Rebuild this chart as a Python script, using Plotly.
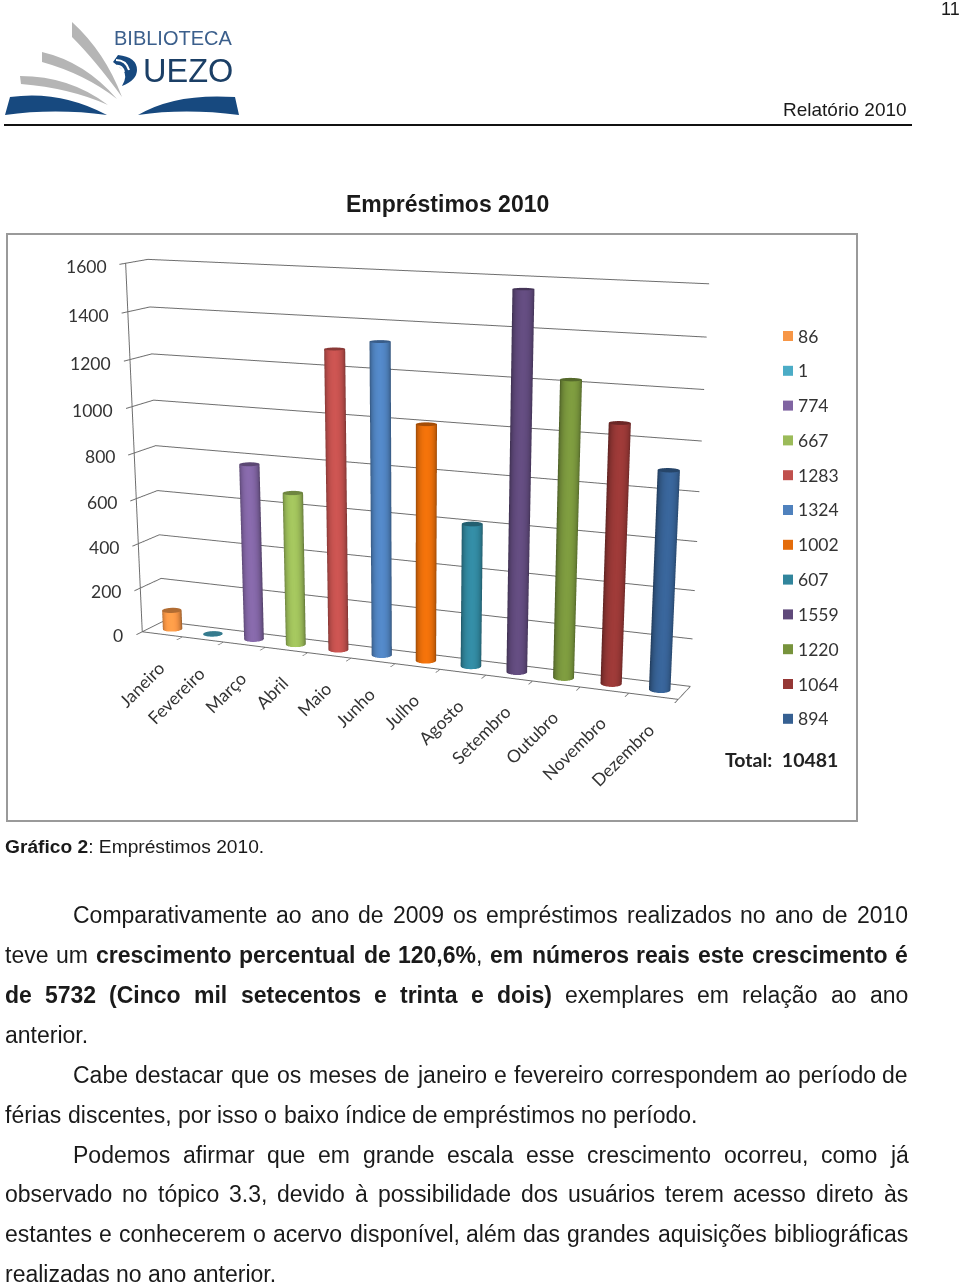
import math, re, unicodedata
import plotly.graph_objects as go

months = ["Janeiro","Fevereiro","Março","Abril","Maio","Junho","Julho","Agosto","Setembro","Outubro","Novembro","Dezembro"]
values = [86,1,774,667,1283,1324,1002,607,1559,1220,1064,894]
colors = ["#f79646","#4bacc6","#8064a2","#9bbb59","#c0504d","#4f81bd","#e46c0a","#31859c","#5f497a","#77933c","#953735","#366092"]
z_ticks = [0,200,400,600,800,1000,1200,1400,1600]
total_label = "10481"

PW, PH = 960, 1600
TOP_CUT = 110
AX, AY, AZ = 2.96, 0.22, 1.94
AZIM, ELEV = math.radians(23), math.radians(18)
DIST = 7.7*PH/1282
SHIFT_R, SHIFT_U = 9.5/200, -217.5/200
R_WORLD = 0.052
N = 28
DOM_X = 0.86

def fx(x): return x/PW
def fy(y): return 1-(y+TOP_CUT)/PH
def path(s):
    out=[]
    for t in re.findall(r"[MLQCZ]|[-\d.]+,[-\d.]+", s):
        if ',' in t:
            a,b=t.split(','); out.append(f"{fx(float(a)):.5f},{fy(float(b)):.5f}")
        else: out.append(t)
    return " ".join(out)

def shade(hexc, m):
    r,g,b=[int(hexc[i:i+2],16) for i in (1,3,5)]
    f=lambda c:max(0,min(255,int(c*m)))
    return f"rgb({f(r)},{f(g)},{f(b)})"

fig = go.Figure()
rx = R_WORLD/(AX/12); ry = R_WORLD/AY; yc = 0.5
for i,(v,c,m) in enumerate(zip(values,colors,months)):
    cx=i+0.5
    xs,ys,zs,vc=[],[],[],[]
    I,J,K=[],[],[]
    for k in range(N):
        a=2*math.pi*k/N
        px,py=cx+rx*math.cos(a),yc+ry*math.sin(a)
        face=math.cos(a)*math.sin(AZIM)-math.sin(a)*math.cos(AZIM)
        b=0.58+0.5*max(0,face)
        for z in (0,v):
            xs.append(px);ys.append(py);zs.append(z);vc.append(shade(c,b))
    for k in range(N):
        n=(k+1)%N
        I+= [2*k,2*k+1]; J+= [2*n,2*n]; K+=[2*k+1,2*n+1]
    base=len(xs)
    xs.append(cx);ys.append(yc);zs.append(v);vc.append(shade(c,0.72))
    for k in range(N):
        a=2*math.pi*k/N
        xs.append(cx+rx*math.cos(a));ys.append(yc+ry*math.sin(a));zs.append(v);vc.append(shade(c,0.72))
    for k in range(N):
        I.append(base);J.append(base+1+k);K.append(base+1+(k+1)%N)
    fig.add_trace(go.Mesh3d(x=xs,y=ys,z=zs,i=I,j=J,k=K,vertexcolor=vc,name=m,flatshading=False,
        lighting=dict(ambient=1,diffuse=0,specular=0,roughness=1,fresnel=0),hoverinfo="skip",showscale=False))

view=(math.sin(AZIM)*math.cos(ELEV),-math.cos(AZIM)*math.cos(ELEV),math.sin(ELEV))
right=(math.cos(AZIM),math.sin(AZIM),0)
up=(-math.sin(AZIM)*math.sin(ELEV),math.cos(AZIM)*math.sin(ELEV),math.cos(ELEV))
T=[SHIFT_R*right[j]+SHIFT_U*up[j] for j in range(3)]
eye=[view[j]*DIST+T[j] for j in range(3)]
center=T

lab=dict(family="Lato",size=17.5,color="#333333")
scene_ann=[dict(x=0,y=0,z=z,text=str(z),showarrow=False,xanchor="right",xshift=-17,yshift=-3.5,font=lab) for z in z_ticks]
scene_ann+=[dict(x=i+0.5,y=0,z=0,text=m,showarrow=False,textangle=-45,xanchor="right",yanchor="top",xshift=9,yshift=-20,font=lab) for i,m in enumerate(months)]

GRID="#6e6e6e"
axis_common=dict(showbackground=False,showspikes=False,zeroline=False,title=dict(text=""),showticklabels=False,
                 linecolor=GRID,linewidth=2,showline=True,tickcolor=GRID,tickwidth=2)
scene=dict(domain=dict(x=[0,DOM_X],y=[0,1]),aspectmode="manual",aspectratio=dict(x=AX,y=AY,z=AZ),
    camera=dict(eye=dict(x=eye[0],y=eye[1],z=eye[2]),center=dict(x=center[0],y=center[1],z=center[2]),up=dict(x=0,y=0,z=1)),
    xaxis=dict(range=[0,12],tickvals=list(range(13)),showgrid=False,ticks="outside",ticklen=8,**axis_common),
    yaxis=dict(range=[0,1],showgrid=False,ticks="",**axis_common),
    zaxis=dict(range=[0,1600],tickvals=z_ticks,showgrid=True,gridcolor=GRID,gridwidth=2,ticks="outside",ticklen=8,**axis_common),
    annotations=scene_ann)

shapes=[]
shapes.append(dict(type="rect",xref="paper",yref="paper",x0=fx(7),x1=fx(857),y0=fy(234),y1=fy(821),line=dict(color="#9a9a9a",width=2),layer="below"))
shapes.append(dict(type="line",xref="paper",yref="paper",x0=fx(4),x1=fx(912),y0=fy(125),y1=fy(125),line=dict(color="#111",width=2)))
anns=[]
def txt(x,y,t,size,family="Liberation Sans",color="#1a1a1a",anchor="left"):
    anns.append(dict(xref="paper",yref="paper",x=fx(x),y=fy(y),text=t,showarrow=False,xanchor=anchor,yanchor="middle",
        font=dict(family=family,size=size,color=color),borderpad=0))
for i,(v,c) in enumerate(zip(values,colors)):
    yy=336+34.8*i
    shapes.append(dict(type="rect",xref="paper",yref="paper",x0=fx(783),x1=fx(793),y0=fy(yy-5),y1=fy(yy+5),fillcolor=c,line=dict(width=0)))
    txt(797,yy,str(v),17.5,"Lato","#333333")
txt(724,759,f"<b>Total:  {total_label}</b>",19.5,"Lato","#222")

# logo
for p,col in [("M72,22 Q105,52 122,97 Q95,60 72,37 Z","#b5b5b5"),("M42,52 Q85,62 117,99 Q85,74 42,62 Z","#b5b5b5"),
              ("M20,76 Q70,76 108,105 Q70,88 21,84 Z","#b5b5b5"),("M10,97 Q60,90 107,115 Q55,108 5,115 Z","#17497f"),
              ("M138,115 Q175,93 235,97 L239,115 Q185,108 138,115 Z","#17497f"),
              ("M118,55 Q137,57 137,70 Q137,80 122,86 Q128,76 123,70 L113,62 Z","#17497f")]:
    shapes.append(dict(type="path",xref="paper",yref="paper",path=path(p),fillcolor=col,line=dict(width=0)))
for p in ["M116,60 Q126,60 129,70","M116,66 Q122,65 124,72"]:
    shapes.append(dict(type="path",xref="paper",yref="paper",path=path(p),line=dict(color="white",width=2)))
txt(113,38,"BIBLIOTECA",20,color="#3b5f8c")
txt(142,71,"UEZO",32.5,color="#1b3f66")

txt(961,9,"11",18,anchor="right")
txt(907.5,110,"Relatório 2010",19,anchor="right")
txt(447.5,204,"<b>Empréstimos 2010</b>",23,anchor="center")
txt(4,846,"<b>Gráfico 2</b>: Empréstimos 2010.",19.2)

REG={**{c:556 for c in "abdeghnopqu0123456789"},**dict(c=500,f=278,i=222,j=222,k=500,l=222,m=833,r=333,s=500,t=278,v=500,w=722,x=500,y=500,z=500,C=722,P=667)}
REG.update({",":278,".":278,"%":889,"(":333,")":333,":":278})
BOLD={**{c:611 for c in "bdghnopqu"},**{c:556 for c in "aceksvxy0123456789"},**dict(f=333,i=278,j=278,l=278,m=889,r=389,t=333,w=778,z=500,C=722,P=667)}
BOLD.update({",":278,".":278,"%":889,"(":333,")":333,":":333})
def wwidth(word,size):
    total=0
    for m in re.finditer(r"<b>(.*?)</b>|([^<]+)",word):
        b=m.group(1) is not None
        seg=m.group(1) if b else m.group(2)
        tb=BOLD if b else REG
        for ch in unicodedata.normalize("NFD",seg):
            if unicodedata.combining(ch): continue
            total+=tb.get(ch,556)
    return total*size/1000
body=[
 (915,73,True,"Comparativamente ao ano de 2009 os empréstimos realizados no ano de 2010"),
 (955,5,True,"teve um <b>crescimento</b> <b>percentual</b> <b>de</b> <b>120,6%</b>, <b>em</b> <b>números</b> <b>reais</b> <b>este</b> <b>crescimento</b> <b>é</b>"),
 (995,5,True,"<b>de</b> <b>5732</b> <b>(Cinco</b> <b>mil</b> <b>setecentos</b> <b>e</b> <b>trinta</b> <b>e</b> <b>dois)</b> exemplares em relação ao ano"),
 (1035,5,False,"anterior."),
 (1075,73,True,"Cabe destacar que os meses de janeiro e fevereiro correspondem ao período de"),
 (1115,5,False,"férias discentes, por isso o baixo índice de empréstimos no período."),
 (1155,73,True,"Podemos afirmar que em grande escala esse crescimento ocorreu, como já"),
 (1194,5,True,"observado no tópico 3.3, devido à possibilidade dos usuários terem acesso direto às"),
 (1234,5,True,"estantes e conhecerem o acervo disponível, além das grandes aquisições bibliográficas"),
 (1274,5,False,"realizadas no ano anterior."),
]
BS=23
for y,x0,just,line in body:
    words=line.split(" ")
    ws=[wwidth(w,BS) for w in words]
    gap=(908-x0-sum(ws))/(len(words)-1) if just else 0.278*BS
    x=x0
    for w,wd in zip(words,ws):
        txt(x-1,y-0.5,w,BS)
        x+=wd+gap

fig.update_layout(width=PW,height=PH,margin=dict(l=0,r=0,t=0,b=0),paper_bgcolor="white",scene=scene,shapes=shapes,annotations=anns,showlegend=False)
fig.write_html("out.html",config=dict(displayModeBar=False),
    post_script=f"document.body.style.margin='-{TOP_CUT}px 0 0 0';document.documentElement.style.overflow='hidden';document.documentElement.style.height='100vh';document.body.style.overflow='visible';")
